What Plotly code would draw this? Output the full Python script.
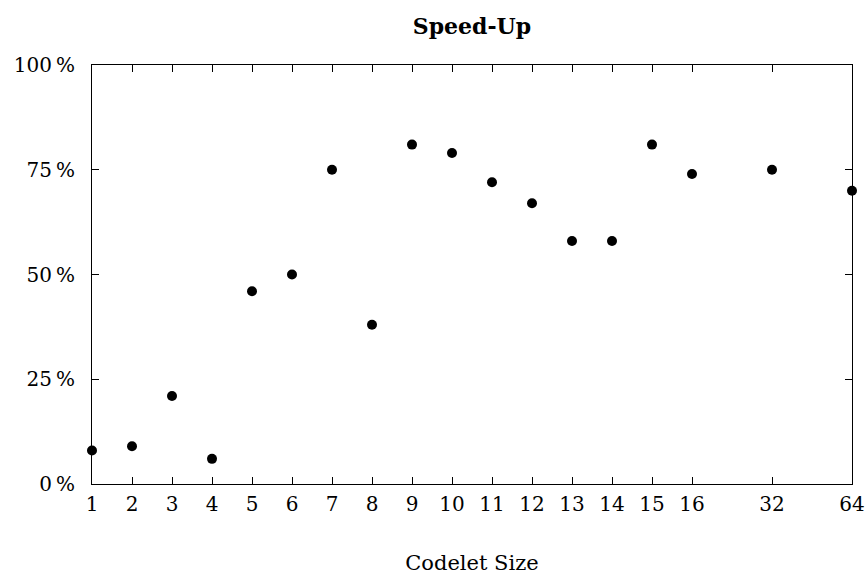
import math
import plotly.graph_objects as go

codelet_sizes = [1, 2, 3, 4, 5, 6, 7, 8, 9, 10, 11, 12, 13, 14, 15, 16, 32, 64]
speedup_pct = [8, 9, 21, 6, 46, 50, 75, 38, 81, 79, 72, 67, 58, 58, 81, 74, 75, 70]
y_ticks = [0, 25, 50, 75, 100]


def slot(v):
    # linear up to 16, then two slots per doubling
    return v if v <= 16 else 16 + 2 * math.log2(v / 16)


xs = [slot(v) for v in codelet_sizes]
font_family = "DejaVu Serif, Liberation Serif, serif"

fig = go.Figure(
    go.Scatter(
        x=xs,
        y=speedup_pct,
        mode="markers",
        marker=dict(color="black", size=10),
        cliponaxis=False,
        showlegend=False,
    )
)

fig.update_layout(
    width=868,
    height=575,
    paper_bgcolor="white",
    plot_bgcolor="white",
    margin=dict(l=92, r=16, t=65, b=91),
    font=dict(family=font_family, size=20, color="black"),
    title=dict(
        text="<b>Speed-Up</b>",
        x=0.5,
        xanchor="center",
        xref="paper",
        y=1 - 26 / 575,
        yanchor="middle",
        font=dict(size=22, family=font_family),
    ),
)

fig.update_xaxes(
    range=[1, 20],
    automargin=False,
    tickmode="array",
    tickvals=xs,
    ticktext=[str(v) for v in codelet_sizes],
    ticks="inside",
    ticklen=7,
    tickcolor="black",
    showline=True,
    linecolor="black",
    linewidth=1,
    mirror="ticks",
    showgrid=False,
    zeroline=False,
    title=dict(text="Codelet Size", font=dict(size=21), standoff=47),
    tickfont=dict(size=20),
    ticklabelstandoff=2,
)

fig.update_yaxes(
    range=[0, 100],
    automargin=False,
    tickmode="array",
    tickvals=y_ticks,
    ticktext=[f"{v}\u2009%" for v in y_ticks],
    ticks="inside",
    ticklen=7,
    tickcolor="black",
    showline=True,
    linecolor="black",
    linewidth=1,
    mirror="ticks",
    showgrid=False,
    zeroline=False,
    tickfont=dict(size=20),
    ticklabelstandoff=12,
)

fig.write_html(
    "out.html",
    config={"displayModeBar": False},
    post_script="document.body.style.margin='0';",
)
